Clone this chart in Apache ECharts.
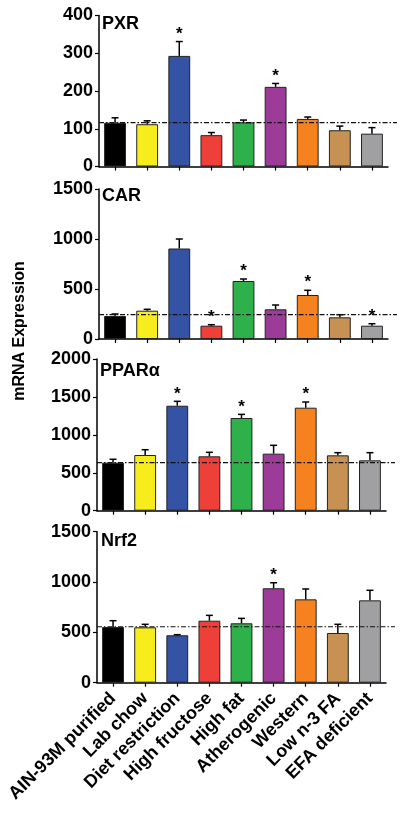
<!DOCTYPE html>
<html><head><meta charset="utf-8">
<script src="https://cdn.jsdelivr.net/npm/echarts@6/dist/echarts.min.js"></script>
<style>html,body{margin:0;padding:0;background:#fff}#c{width:400px;height:815px}</style>
</head><body><div id="c"></div>
<script>
const categories = ['AIN-93M purified','Lab chow','Diet restriction','High fructose','High fat','Atherogenic','Western','Low n-3 FA','EFA deficient'];
const barColors = ['#000000','#f7ec1c','#3553a4','#ee4039','#2eb14b','#9d3c98','#f5821f','#c69152','#a0a0a3'];

const pxrMean = [116,112,293,83,117,211,126,96,87];
const pxrErr  = [13,9,38,7,6,9,5,11,16];
const pxrSig  = [0,0,1,0,0,1,0,0,0];
const pxrRef  = 116;

const carMean = [230,283,905,133,580,297,440,217,133];
const carErr  = [20,14,95,10,20,43,47,26,20];
const carSig  = [0,0,0,1,1,0,1,0,1];
const carRef  = 243;

const pparMean = [633,734,1384,717,1222,752,1358,730,664];
const pparErr  = [45,70,58,53,48,110,75,35,101];
const pparSig  = [0,0,1,0,1,0,1,0,0];
const pparRef  = 633;

const nrfMean = [553,550,471,616,590,938,828,494,818];
const nrfErr  = [63,30,6,53,49,55,103,86,100];
const nrfSig  = [0,0,0,0,0,1,0,0,0];
const nrfRef  = 556;

const panels = [
  {name:'PXR', mean:pxrMean, err:pxrErr, sig:pxrSig, ref:pxrRef, max:400, interval:100},
  {name:'CAR', mean:carMean, err:carErr, sig:carSig, ref:carRef, max:1500, interval:500},
  {name:'PPARα', mean:pparMean, err:pparErr, sig:pparSig, ref:pparRef, max:2000, interval:500},
  {name:'Nrf2', mean:nrfMean, err:nrfErr, sig:nrfSig, ref:nrfRef, max:1500, interval:500}
];
const gridBoxes = [
  {left:99, width:289, top:15.5, height:151},
  {left:99, width:289, top:189, height:150},
  {left:97, width:289, top:359, height:151.7},
  {left:97, width:289, top:531.7, height:151}
];
const titleTops = [15, 187, 362, 532];
const titleLefts = [102, 102, 100, 101];

const FONT = '"Liberation Sans", Arial, Helvetica, sans-serif';
const chart = echarts.init(document.getElementById('c'), null, {renderer:'canvas'});

const grid=[], xAxis=[], yAxis=[], series=[], title=[];
panels.forEach((p, i) => {
  grid.push(Object.assign({containLabel:false}, gridBoxes[i]));
  title.push({text:p.name, left:titleLefts[i], top:titleTops[i], padding:0,
    textStyle:{fontFamily:FONT, fontWeight:'bold', fontSize:18, color:'#000'}});
  const last = i === panels.length-1;
  xAxis.push({type:'category', gridIndex:i, data:categories,
    axisLine:{lineStyle:{color:'#000', width:1.5}},
    axisTick:{show:true, alignWithLabel:true, length:4, lineStyle:{color:'#000', width:1.2}},
    axisLabel:{show:last, rotate:45, interval:0, margin:13, fontFamily:FONT, fontWeight:'bold', fontSize:18, color:'#000'},
    splitLine:{show:false}});
  yAxis.push({type:'value', gridIndex:i, min:0, max:p.max, interval:p.interval,
    axisLine:{show:true, lineStyle:{color:'#000', width:1.5}},
    axisTick:{show:true, length:4, lineStyle:{color:'#000', width:1.2}},
    axisLabel:{margin:6, fontFamily:FONT, fontWeight:'bold', fontSize:18, color:'#000', formatter:v=>String(v)},
    splitLine:{show:false}});
  series.push({type:'bar', xAxisIndex:i, yAxisIndex:i, barWidth:'68%',
    data:p.mean.map((v,k)=>({value:v, itemStyle:{color:barColors[k]}})),
    itemStyle:{borderColor:'#222', borderWidth:1}, z:2, animation:false});
  series.push({type:'custom', xAxisIndex:i, yAxisIndex:i, z:3, animation:false,
    data:p.mean.map((v,k)=>[k, v, v + p.err[k], p.sig[k]]),
    renderItem:function(params, api){
      const x = api.value(0);
      const a = api.coord([x, api.value(1)]);
      const b = api.coord([x, api.value(2)]);
      const children = [
        {type:'line', shape:{x1:a[0], y1:a[1], x2:b[0], y2:b[1]}, style:{stroke:'#000', lineWidth:1.5}},
        {type:'line', shape:{x1:b[0]-3.5, y1:b[1], x2:b[0]+3.5, y2:b[1]}, style:{stroke:'#000', lineWidth:1.5}}
      ];
      if (api.value(3)) {
        children.push({type:'text', x:b[0], y:b[1]+1, style:{text:'*', fontFamily:FONT, fontWeight:'bold', fontSize:17, fill:'#000', align:'center', verticalAlign:'bottom'}});
      }
      return {type:'group', children};
    }});
  series.push({type:'custom', xAxisIndex:i, yAxisIndex:i, z:4, animation:false,
    data:[[0, p.ref]],
    renderItem:function(params, api){
      const cs = params.coordSys;
      const y = api.coord([0, api.value(1)])[1];
      return {type:'line', shape:{x1:cs.x, y1:y, x2:cs.x+cs.width+9, y2:y},
        style:{stroke:'#111', lineWidth:1.2, lineDash:[5,2,1.5,2]}};
    }});
});

chart.setOption({
  animation:false,
  title, grid, xAxis, yAxis, series,
  graphic:[{type:'text', x:20, y:331, rotation:Math.PI/2,
    style:{text:'mRNA Expression', fontFamily:FONT, fontWeight:'bold', fontSize:16, fill:'#000', align:'center', verticalAlign:'middle'}}]
});
</script></body></html>
